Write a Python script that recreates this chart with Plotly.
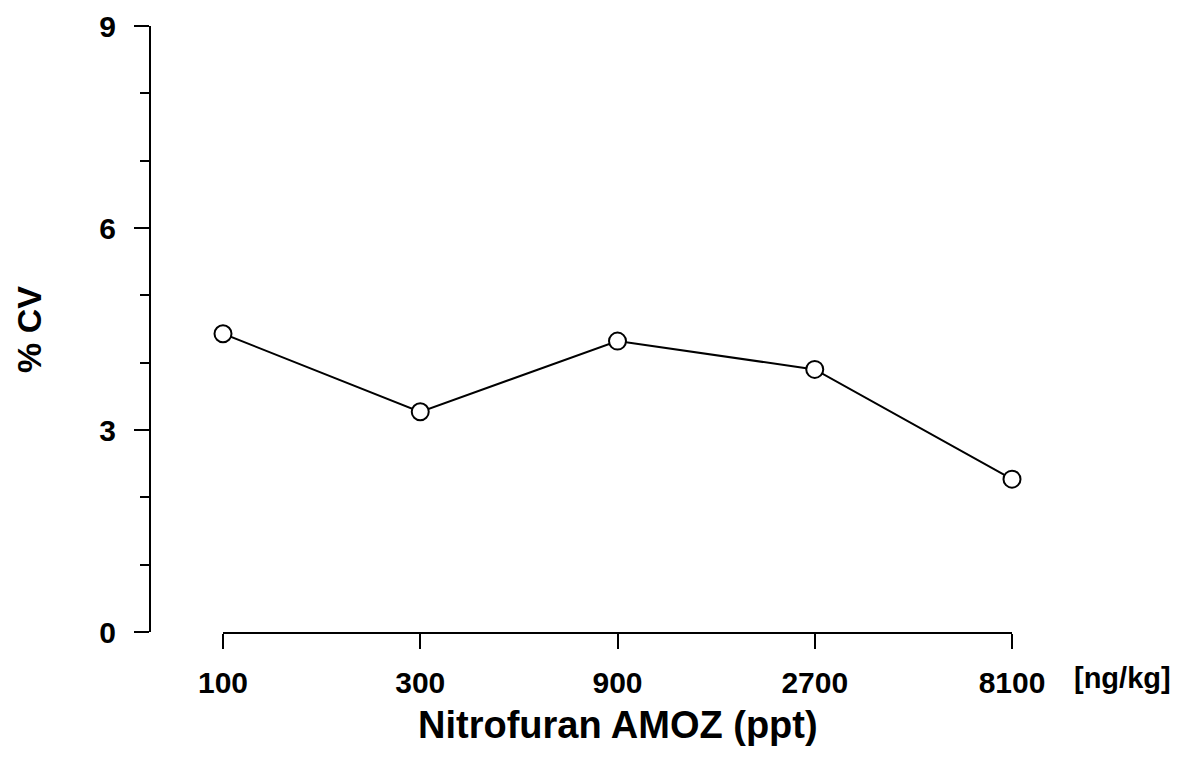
import plotly.graph_objects as go

concentrations = ["100", "300", "900", "2700", "8100"]
cv_percent = [4.43, 3.27, 4.32, 3.90, 2.27]
y_major_ticks = [0, 3, 6, 9]
y_minor_ticks = [1, 2, 4, 5, 7, 8]

FONT = "Liberation Sans, Arial, Helvetica, sans-serif"

# the page body has an 8px default margin; size the figure to fit the window
OFF = 8
W, H = 1179 - OFF, 769 - OFF
L, R, T, B = 150 - OFF, 167, 26 - OFF, 137
plot_w = W - L - R
plot_h = H - T - B
plot_bottom = H - B

fig = go.Figure()
fig.add_trace(go.Scatter(
    x=concentrations, y=cv_percent,
    mode="lines+markers",
    line=dict(color="black", width=2),
    marker=dict(symbol="circle", size=17, color="white",
                line=dict(color="black", width=2)),
    cliponaxis=False,
    showlegend=False,
))

fig.update_layout(
    width=W, height=H,
    margin=dict(l=L, r=R, t=T, b=B, autoexpand=False),
    paper_bgcolor="white", plot_bgcolor="white",
    font=dict(family=FONT, color="black"),
    xaxis=dict(
        type="category",
        domain=[73 / plot_w, 1],
        range=[0, 4],
        automargin=False,
        showline=True, linecolor="black", linewidth=2,
        ticks="outside", ticklen=15, tickwidth=2, tickcolor="black",
        tickfont=dict(family=FONT, size=30, weight="bold"),
        ticklabelstandoff=8,
        ticklabeloverflow="allow",
        showgrid=False, zeroline=False,
    ),
    yaxis=dict(
        anchor="free", position=0,
        range=[0, 9],
        automargin=False,
        tickvals=y_major_ticks,
        showline=True, linecolor="black", linewidth=2,
        ticks="outside", ticklen=15, tickwidth=2, tickcolor="black",
        tickfont=dict(family=FONT, size=30, weight="bold"),
        ticklabelstandoff=12,
        ticklabeloverflow="allow",
        minor=dict(tickvals=y_minor_ticks, ticks="outside", ticklen=9,
                   tickwidth=2, tickcolor="black"),
        showgrid=False, zeroline=False,
    ),
    annotations=[
        dict(text="[ng/kg]", xref="paper", yref="paper",
             x=1 + 60 / plot_w, y=0, xanchor="left", yanchor="middle",
             yshift=-46, showarrow=False,
             font=dict(family=FONT, size=29, weight="bold", color="black")),
        dict(text="Nitrofuran AMOZ (ppt)", xref="paper", yref="paper",
             x=(73 / plot_w + 1) / 2, y=0, xanchor="center", yanchor="middle",
             yshift=-((725 - OFF) - plot_bottom), showarrow=False,
             font=dict(family=FONT, size=38, weight="bold", color="black")),
        dict(text="% CV", xref="paper", yref="paper",
             x=0, y=0.5, xanchor="center", yanchor="middle",
             xshift=(29 - OFF) - L, yshift=(T + plot_h / 2) - (330 - OFF),
             textangle=-90, showarrow=False,
             font=dict(family=FONT, size=34, weight="bold", color="black")),
    ],
)

fig.write_html("out.html")
